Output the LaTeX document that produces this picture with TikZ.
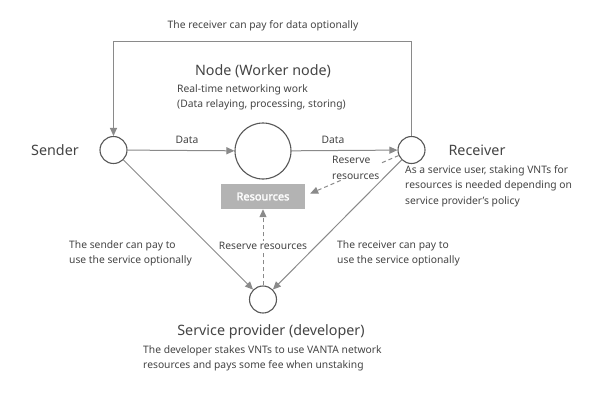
\documentclass[tikz,border=0pt]{standalone}
\usepackage{fontspec}
\setmainfont{Noto Sans}
\newfontfamily\resfont{Noto Sans}[FakeBold=2]
\usetikzlibrary{arrows.meta}
\definecolor{txt}{HTML}{444444}
\definecolor{ln}{HTML}{8A8A8A}
\definecolor{boxfill}{HTML}{B3B3B3}
\begin{document}
\begin{tikzpicture}[x=1pt,y=-1pt,
  circ/.style={circle,draw=txt!90,line width=1.1pt,inner sep=0pt},
  conn/.style={draw=ln,line width=1pt,-{Triangle[length=8pt,width=7pt,fill=ln]}},
  dconn/.style={draw=ln,line width=1pt,dashed,dash pattern=on 4pt off 3pt,-{Triangle[length=8pt,width=7pt,fill=ln]}},
  big/.style={text=txt,font=\fontsize{14.3}{16}\selectfont,inner sep=0pt},
  small/.style={text=txt,font=\fontsize{10.3}{15.5}\selectfont,inner sep=0pt,align=left},
  resbox/.style={fill=boxfill,text=white,font=\resfont\fontsize{11}{12}\selectfont,minimum width=84pt,minimum height=25pt,inner sep=0pt}
]
\useasboundingbox (0,0) rectangle (599,400);
\fill[white] (0,0) rectangle (599,400);
% circles
\node[circ,minimum size=27pt] (S) at (113.5,150) {};
\node[circ,minimum size=56pt] (N) at (263,151) {};
\node[circ,minimum size=27pt] (R) at (411.5,150) {};
\node[circ,minimum size=27pt] (P) at (263,299.5) {};
\node[resbox] (Res) at (263,196.5) {Resources};
% top loop
\coordinate (TL) at (113.5,41);
\coordinate (TR) at (411.5,41);
\draw[conn] (R.north) -- (TR) -- (TL) -- (S.north);
\node[small,anchor=center] (toplbl) at (263,26) {The receiver can pay for data optionally};
% data arrows
\draw[conn] (S) -- (N);
\draw[conn] (N) -- (R);
\node[small] (d1) at (187,140) {Data};
\node[small] (d2) at (333,140) {Data};
% titles
\node[big] (sendt) at (55,150) {Sender};
\node[big] (rect) at (477,150) {Receiver};
\node[big] (nodet) at (263,71) {Node (Worker node)};
\node[small,anchor=north west] (nodedesc) at (177,84) {Real-time networking work\\(Data relaying, processing, storing)};
\node[small,anchor=north west] (recdesc) at (405,165) {As a service user, staking VNTs for\\resources is needed depending on\\service provider’s policy};
% reserve from receiver
\coordinate (ResE) at ([xshift=5pt,yshift=3pt]Res.east);
\draw[dconn] (R) -- (ResE);
\node[small,anchor=north west,fill=white,inner sep=1pt] (rr1) at (331,155) {Reserve\\resources};
% diagonal lines
\draw[conn] (S) -- (P);
\draw[conn] (R) -- (P);
\node[small,anchor=north west] (sp) at (69,240) {The sender can pay to\\use the service optionally};
\node[small,anchor=north west] (rp) at (337,240) {The receiver can pay to\\use the service optionally};
% reserve from provider
\draw[dconn] (P.north) -- (Res.south);
\node[small,fill=white,inner sep=1.5pt] (rr2) at (263,246) {Reserve resources};
% provider text
\node[big] (provt) at (271,332) {Service provider (developer)};
\node[small,anchor=north west] (provdesc) at (143,345) {The developer stakes VNTs to use VANTA network\\resources and pays some fee when unstaking};
\end{tikzpicture}
\end{document}
